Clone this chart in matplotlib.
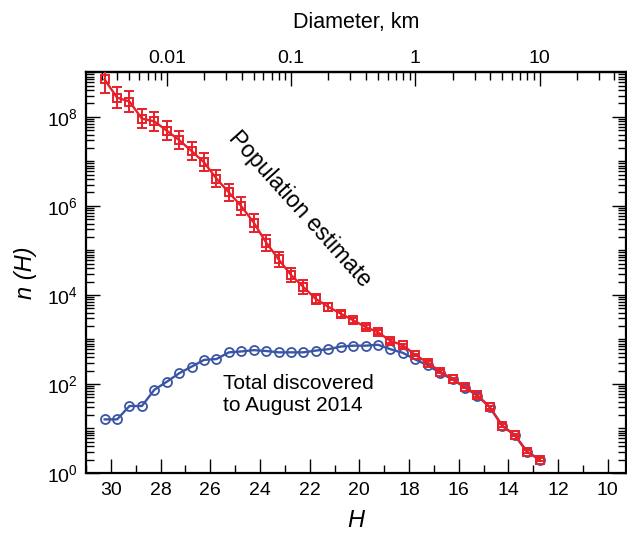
import numpy as np
import matplotlib
matplotlib.use('Agg')
import matplotlib.pyplot as plt
from matplotlib.ticker import LogLocator, FixedLocator, FuncFormatter, NullFormatter, MultipleLocator

plt.rcParams['font.family'] = ['Liberation Sans', 'DejaVu Sans']
plt.rcParams['mathtext.fontset'] = 'custom'
plt.rcParams['mathtext.rm'] = 'Liberation Sans'
plt.rcParams['mathtext.it'] = 'Liberation Sans:italic'

# Absolute magnitude bins
H = [30.25, 29.75, 29.25, 28.75, 28.25, 27.75, 27.25, 26.75, 26.25, 25.75,
     25.25, 24.75, 24.25, 23.75, 23.25, 22.75, 22.25, 21.75, 21.25, 20.75,
     20.25, 19.75, 19.25, 18.75, 18.25, 17.75, 17.25, 16.75, 16.25, 15.75,
     15.25, 14.75, 14.25, 13.75, 13.25, 12.75]

# Population estimate n(H)
population = [6.9e8, 2.7e8, 2.2e8, 9.1e7, 7.9e7, 4.9e7, 3.0e7, 1.7e7, 9.5e6, 4.1e6,
              2.0e6, 9.8e5, 4.2e5, 1.5e5, 6.3e4, 2.8e4, 1.5e4, 8.1e3, 5.4e3, 3.8e3,
              2.7e3, 1.9e3, 1.45e3, 930, 740, 450, 300, 190, 130, 85,
              56, 30, 11.5, 7.1, 3.0, 2.0]

# Error half-widths in dex
pop_err_dex = [0.30, 0.23, 0.23, 0.22, 0.21, 0.21, 0.20, 0.20, 0.20, 0.20,
               0.20, 0.20, 0.20, 0.18, 0.17, 0.16, 0.15, 0.11, 0.09, 0.07,
               0.06, 0.05, 0.04, 0.04, 0.03, 0.03, 0.03, 0.03, 0.03, 0.03,
               0.03, 0.03, 0.03, 0.03, 0.03, 0.03]

# Total discovered to August 2014
discovered = [16, 16, 32, 32, 74, 112, 174, 245, 347, 363,
              513, 537, 575, 550, 513, 513, 513, 562, 603, 692,
              724, 724, 759, 603, 500, 355, 263, 178, 126, 83,
              54, 30, 11.5, 7.1, 3.0, 2.0]

diam_ticks = [0.01, 0.1, 1, 10]
H_1km = 17.75

RED = '#E8202A'
BLUE = '#3A55A4'

fig = plt.figure(figsize=(6.27, 5.33), dpi=100)
ax = fig.add_axes([86/627, 60/533, 540/627, 400.7/533])

pop = np.array(population)
err = np.array(pop_err_dex)
yerr = [pop - pop * 10**(-err), pop * 10**err - pop]

ax.plot(H, discovered, '-o', color=BLUE, mfc='none', mec=BLUE, ms=6.5, mew=1.3, lw=1.7, zorder=3)
ax.errorbar(H, population, yerr=yerr, fmt='-s', color=RED, mfc='none', mec=RED, ms=6.3, mew=1.4,
            lw=1.7, elinewidth=1.4, capsize=3.3, capthick=1.4, zorder=4)

ax.set_yscale('log')
ax.set_xlim(31.0, 9.27)
ax.set_ylim(1, 1e9)

ax.xaxis.set_major_locator(MultipleLocator(2))
ax.xaxis.set_minor_locator(MultipleLocator(1))
ax.xaxis.set_major_formatter(FuncFormatter(lambda v, p: f"{v:.0f}"))
ax.yaxis.set_major_locator(FixedLocator([1e0, 1e2, 1e4, 1e6, 1e8]))
ax.yaxis.set_minor_locator(LogLocator(base=10, subs=np.arange(1, 10), numticks=30))
ax.yaxis.set_major_formatter(FuncFormatter(lambda v, p: r"$\mathregular{10^{%d}}$" % int(round(np.log10(v)))))
ax.yaxis.set_minor_formatter(NullFormatter())

ax.tick_params(which='both', direction='in', top=False, right=True, width=1.0, labelsize=14)
ax.tick_params(which='major', length=10)
ax.tick_params(which='minor', length=6)
ax.tick_params(axis='x', pad=6.5)
ax.tick_params(axis='y', pad=6)
for s in ax.spines.values():
    s.set_linewidth(1.6)

def h2d(h):
    return 10 ** ((H_1km - np.asarray(h, dtype=float)) / 5.0)

def d2h(d):
    d = np.clip(np.asarray(d, dtype=float), 1e-12, None)
    return H_1km - 5.0 * np.log10(d)

sec = ax.secondary_xaxis('top', functions=(h2d, d2h))
sec.xaxis.set_major_locator(FixedLocator(diam_ticks))
sec.xaxis.set_minor_locator(LogLocator(base=10, subs=np.arange(2, 10), numticks=30))
sec.xaxis.set_major_formatter(FuncFormatter(lambda v, p: f"{v:g}"))
sec.xaxis.set_minor_formatter(NullFormatter())
sec.tick_params(which='both', direction='in', width=1.0, labelsize=14, pad=3.5)
sec.tick_params(which='major', length=10)
sec.tick_params(which='minor', length=6)
sec.spines['top'].set_linewidth(1.6)
sec.set_xlabel('Diameter, km', fontsize=15.5, labelpad=16)

ax.set_xlabel('H', fontsize=17, style='italic', labelpad=7)
ax.set_ylabel('n (H)', fontsize=17, style='italic', labelpad=7)

ax.text(22.4, 8.3e5, 'Population estimate', rotation=-48, fontsize=16.5,
        ha='center', va='center', rotation_mode='anchor')
ax.text(25.5, 57, 'Total discovered\nto August 2014', fontsize=15, ha='left', va='center',
        linespacing=1.2)

fig.savefig('out.png', dpi=100)
